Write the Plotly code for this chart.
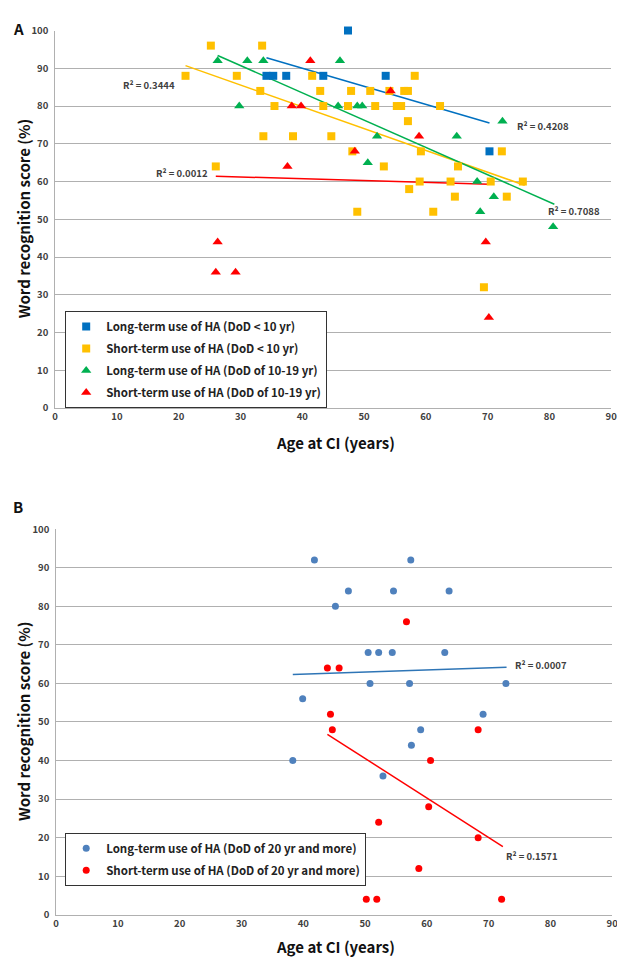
import plotly.graph_objects as go

W, H = 625, 959
# the page shows the figure slightly shifted and scaled; measured from earlier renders
OX, OY, SX, SY = 12.0, 15.5, 0.982, 0.984

# ---- Panel A data (age at CI, word recognition score) ----
a_long_lt10_age = [34.2, 35.3, 37.4, 43.4, 47.4, 53.5, 70.3]
a_long_lt10_score = [88, 88, 88, 88, 100, 88, 68]

a_short_lt10_age = [21.1, 25.2, 26.0, 29.4, 33.2, 33.5, 33.7, 35.5, 38.5, 41.6,
                    42.9, 43.4, 44.7, 47.9, 47.4, 48.1, 48.9, 51.0, 51.8, 53.2,
                    54.1, 55.3, 56.0, 56.5, 57.1, 57.1, 57.3, 58.2, 59.0, 59.2,
                    61.2, 62.3, 64.0, 64.7, 65.2, 69.4, 70.5, 72.3, 73.1, 75.7]
a_short_lt10_score = [88, 96, 64, 88, 84, 96, 72, 80, 72, 88,
                      84, 80, 72, 84, 80, 68, 52, 84, 80, 64,
                      84, 80, 80, 84, 84, 76, 58, 88, 60, 68,
                      52, 80, 60, 56, 64, 32, 60, 68, 56, 60]

a_long_1019_age = [26.3, 31.1, 33.7, 29.8, 46.1, 45.8, 48.9, 49.7, 52.1, 50.6,
                   65.0, 68.3, 68.8, 71.0, 72.4, 80.6]
a_long_1019_score = [92, 92, 92, 80, 92, 80, 80, 80, 72, 65,
                     72, 60, 52, 56, 76, 48]

a_short_1019_age = [41.3, 38.3, 39.8, 37.6, 54.3, 48.5, 58.9, 26.3, 26.0, 29.2, 69.7, 70.2]
a_short_1019_score = [92, 80, 80, 64, 84, 68, 72, 44, 36, 36, 44, 24]

# trend line end points
a_trend_blue = ([34.2, 70.3], [92.8, 75.5])
a_trend_yellow = ([21.1, 76.0], [90.7, 59.0])
a_trend_green = ([26.3, 80.8], [93.4, 54.0])
a_trend_red = ([26.0, 70.3], [61.4, 59.3])

# ---- Panel B data ----
b_long_age = [41.8, 57.4, 39.9, 47.3, 54.6, 63.6, 45.2, 50.5, 52.2, 54.4,
              62.9, 50.8, 57.2, 72.8, 69.1, 38.3, 59.0, 57.5, 52.9, 48.2]
b_long_score = [92, 92, 56, 84, 84, 84, 80, 68, 68, 68,
                68, 60, 60, 60, 52, 40, 48, 44, 36, 16]

b_short_age = [56.7, 43.9, 45.8, 44.4, 44.7, 68.3, 60.6, 60.3, 52.2, 68.3,
               58.7, 50.2, 51.9, 72.1]
b_short_score = [76, 64, 64, 52, 48, 48, 40, 28, 24, 20,
                 12, 4, 4, 4]

b_trend_blue = ([38.3, 72.9], [62.3, 64.2])
b_trend_red = ([43.9, 72.3], [46.8, 17.7])

BLUE, YELLOW, GREEN, RED = "#0070C0", "#FFC000", "#00B050", "#FF0000"
B_BLUE = "#4F81BD"
GRID = "#B0B0B0"
FONT = "Noto Sans CJK KR"


def fx(px):
    # target picture pixel -> paper fraction
    return max(0.0, min(1.0, (px - OX) / SX / W))


def fy(py):
    return max(0.0, min(1.0, 1 - (py - OY) / SY / H))


fig = go.Figure()


def scatter(x, y, name, color, symbol, size, xa, ya, legend):
    fig.add_trace(go.Scatter(
        x=x, y=y, mode="markers", name=name, xaxis=xa, yaxis=ya, legend=legend,
        legendgroup=name, cliponaxis=False,
        marker=dict(color=color, symbol=symbol, size=size, line=dict(width=0))))


def trend(pts, color, xa, ya):
    fig.add_trace(go.Scatter(
        x=pts[0], y=pts[1], mode="lines", xaxis=xa, yaxis=ya, showlegend=False,
        line=dict(color=color, width=1.5), hoverinfo="skip"))


# panel A
trend(a_trend_blue, BLUE, "x", "y")
trend(a_trend_yellow, YELLOW, "x", "y")
trend(a_trend_green, GREEN, "x", "y")
trend(a_trend_red, RED, "x", "y")
scatter(a_long_lt10_age, a_long_lt10_score, "Long-term use of HA (DoD < 10 yr)",
        BLUE, "square", 8, "x", "y", "legend")
scatter(a_short_lt10_age, a_short_lt10_score, "Short-term use of HA (DoD < 10 yr)",
        YELLOW, "square", 8, "x", "y", "legend")
scatter(a_long_1019_age, a_long_1019_score, "Long-term use of HA (DoD of 10-19 yr)",
        GREEN, "triangle-up", 9, "x", "y", "legend")
scatter(a_short_1019_age, a_short_1019_score, "Short-term use of HA (DoD of 10-19 yr)",
        RED, "triangle-up", 9, "x", "y", "legend")

# panel B
trend(b_trend_blue, "#2E75B6", "x2", "y2")
trend(b_trend_red, RED, "x2", "y2")
scatter(b_long_age, b_long_score, "Long-term use of HA (DoD of 20 yr and more)",
        B_BLUE, "circle", 7, "x2", "y2", "legend2")
scatter(b_short_age, b_short_score, "Short-term use of HA (DoD of 20 yr and more)",
        RED, "circle", 7, "x2", "y2", "legend2")

tickfont = dict(family=FONT, size=9.5, color="#404040", weight="bold")
xcommon = dict(range=[0, 90], dtick=10, showgrid=False, zeroline=False,
               showline=True, linecolor=GRID, ticks="", tickfont=tickfont)
ycommon = dict(range=[0, 100], dtick=10, showgrid=True, gridcolor=GRID, gridwidth=1,
               zeroline=False, showline=True, linecolor=GRID, ticks="",
               tickfont=tickfont, ticklabelstandoff=4)

legfont = dict(family=FONT, size=11.5, color="#222222", weight="bold")
legcommon = dict(xanchor="left", yanchor="top", bgcolor="white",
                 bordercolor="#333333", borderwidth=1, font=legfont,
                 itemwidth=30, tracegroupgap=3)

fig.update_layout(
    width=W, height=H, margin=dict(l=0, r=0, t=0, b=0),
    paper_bgcolor="white", plot_bgcolor="white",
    xaxis=dict(domain=[fx(56), fx(610)], anchor="y", **xcommon),
    yaxis=dict(domain=[fy(407), fy(30)], anchor="x", **ycommon),
    xaxis2=dict(domain=[fx(57), fx(611)], anchor="y2", **xcommon),
    yaxis2=dict(domain=[fy(913), fy(528)], anchor="x2", **ycommon),
    legend=dict(x=fx(66), y=fy(310), **legcommon),
    legend2=dict(x=fx(66), y=fy(831), **legcommon),
)

# R² labels
r2_font = dict(family=FONT, size=9.5, color="#404040", weight="bold")
r2_labels = [
    ("x", "y", 15.2, 85.6, "R² = 0.3444"),
    ("x", "y", 20.5, 62.2, "R² = 0.0012"),
    ("x", "y", 78.9, 74.7, "R² = 0.4208"),
    ("x", "y", 84.0, 52.1, "R² = 0.7088"),
    ("x2", "y2", 78.4, 64.9, "R² = 0.0007"),
    ("x2", "y2", 77.1, 15.3, "R² = 0.1571"),
]
for xr, yr, xv, yv, txt in r2_labels:
    fig.add_annotation(x=xv, y=yv, xref=xr, yref=yr, text=txt, showarrow=False,
                       font=r2_font)

title_font = dict(family=FONT, size=15, color="#111111", weight="bold")
# (text, x, y, angle, xanchor, yanchor)
for txt, x, y, rot, xa, ya in [
    ("A", 4, 5, 0, "left", "top"),
    ("B", 4, 505, 0, "left", "middle"),
    ("Word recognition score (%)", 4, 218, -90, "left", "middle"),
    ("Word recognition score (%)", 4, 720, -90, "left", "middle"),
    ("Age at CI (years)", 335, 441, 0, "center", "middle"),
    ("Age at CI (years)", 335, 945, 0, "center", "middle"),
]:
    fig.add_annotation(x=fx(x), y=fy(y), xref="paper", yref="paper", text=txt,
                       showarrow=False, textangle=rot, font=title_font,
                       xanchor=xa, yanchor=ya)

fig.write_html("out.html")
